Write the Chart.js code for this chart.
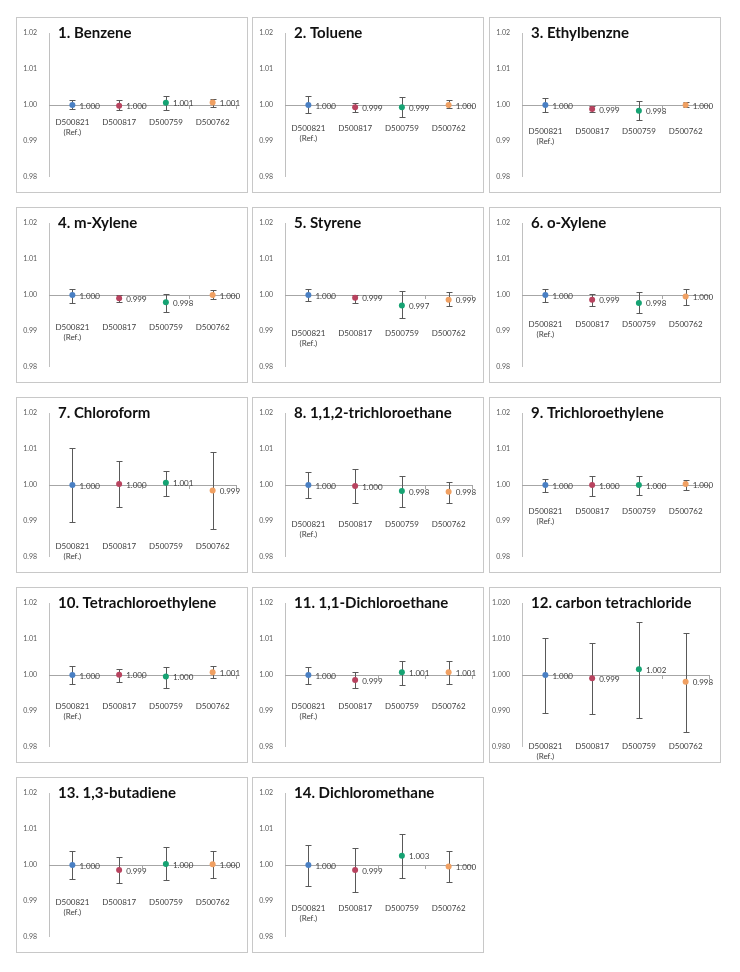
<!DOCTYPE html>
<html><head><meta charset="utf-8">
<script src="https://cdn.jsdelivr.net/npm/chart.js@4.4.1/dist/chart.umd.min.js"></script>
<style>
html,body{margin:0;padding:0;background:#fff;}
body{width:740px;height:972px;position:relative;overflow:hidden;}
.panel{position:absolute;width:232px;height:176px;border:1px solid #c8c8c8;box-sizing:border-box;background:#fff;}
.panel canvas{position:absolute;left:-1px;top:-1px;}
</style></head>
<body>
<script>
// ---- data ----
const compounds = ["1. Benzene","2. Toluene","3. Ethylbenzne","4. m-Xylene","5. Styrene","6. o-Xylene",
  "7. Chloroform","8. 1,1,2-trichloroethane","9. Trichloroethylene","10. Tetrachloroethylene",
  "11. 1,1-Dichloroethane","12. carbon tetrachloride","13. 1,3-butadiene","14. Dichloromethane"];
const instruments = ["D500821","D500817","D500759","D500762"];
const refNote = "(Ref.)";
const yTickValues = [0.98, 0.99, 1.00, 1.01, 1.02];
const yTickDecimals = [2,2,2,2,2,2,2,2,2,2,2,3,2,2];

const means = [
  [1.0000, 0.9998, 1.0006, 1.0007],
  [1.0000, 0.9994, 0.9994, 1.0000],
  [1.0000, 0.9989, 0.9984, 1.0000],
  [1.0000, 0.9991, 0.9980, 1.0000],
  [1.0000, 0.9992, 0.9971, 0.9987],
  [1.0000, 0.9987, 0.9978, 0.9996],
  [1.0000, 1.0003, 1.0006, 0.9985],
  [1.0000, 0.9997, 0.9983, 0.9981],
  [1.0000, 1.0000, 1.0000, 1.0003],
  [1.0000, 1.0001, 0.9996, 1.0008],
  [1.0000, 0.9986, 1.0008, 1.0008],
  [1.0000, 0.9991, 1.0016, 0.9981],
  [1.0000, 0.9986, 1.0003, 1.0002],
  [1.0000, 0.9986, 1.0026, 0.9996]
];
const upper = [
  [1.0013, 1.0013, 1.0024, 1.0018],
  [1.0025, 1.0006, 1.0022, 1.0013],
  [1.0019, 0.9997, 1.0011, 1.0007],
  [1.0018, 0.9999, 1.0004, 1.0013],
  [1.0017, 1.0001, 1.0010, 1.0007],
  [1.0017, 1.0002, 1.0008, 1.0017],
  [1.0102, 1.0068, 1.0040, 1.0093],
  [1.0037, 1.0044, 1.0026, 1.0008],
  [1.0017, 1.0025, 1.0025, 1.0015],
  [1.0026, 1.0018, 1.0023, 1.0026],
  [1.0023, 1.0008, 1.0040, 1.0040],
  [1.0103, 1.0089, 1.0148, 1.0118],
  [1.0038, 1.0022, 1.0049, 1.0039],
  [1.0056, 1.0046, 1.0086, 1.0038]
];
const lower = [
  [0.9988, 0.9987, 0.9987, 0.9994],
  [0.9977, 0.9981, 0.9967, 0.9992],
  [0.9981, 0.9981, 0.9958, 0.9994],
  [0.9979, 0.9981, 0.9952, 0.9990],
  [0.9983, 0.9979, 0.9936, 0.9968],
  [0.9981, 0.9970, 0.9949, 0.9973],
  [0.9898, 0.9938, 0.9970, 0.9878],
  [0.9964, 0.9949, 0.9938, 0.9951],
  [0.9981, 0.9969, 0.9972, 0.9985],
  [0.9975, 0.9980, 0.9964, 0.9992],
  [0.9974, 0.9964, 0.9972, 0.9974],
  [0.9894, 0.9892, 0.9880, 0.9842],
  [0.9961, 0.9949, 0.9958, 0.9964],
  [0.9942, 0.9926, 0.9963, 0.9953]
];

// ---- layout / style (not data) ----
const colLeft = [16, 252, 489];
const rowTop = [17, 207, 397, 587, 777];
const PW = 232, PH = 176;
const labelDrop = [17,23,26,32,38,29,61,39,26,31,31,71,37,43]; // px from axis to first label line centre
const pointColors = ['#4a80c4', '#b8435f', '#16a373', '#f0a062'];
const FONT = 'Lato, "Open Sans", sans-serif';

function makePlugin(k) {
  return {
    id: 'panelDecor' + k,
    beforeDatasetsDraw(chart) {
      const {ctx, scales: {y}} = chart;
      const meta = chart.getDatasetMeta(0);
      ctx.save();
      ctx.strokeStyle = '#595959';
      ctx.lineWidth = 1;
      meta.data.forEach((pt, i) => {
        const px = Math.round(pt.x) + 0.5;
        const yh = Math.round(y.getPixelForValue(upper[k][i])) + 0.5;
        const yl = Math.round(y.getPixelForValue(lower[k][i])) + 0.5;
        ctx.beginPath();
        ctx.moveTo(px, yh); ctx.lineTo(px, yl);
        ctx.moveTo(px - 3, yh); ctx.lineTo(px + 3, yh);
        ctx.moveTo(px - 3, yl); ctx.lineTo(px + 3, yl);
        ctx.stroke();
      });
      ctx.restore();
    },
    afterDatasetsDraw(chart) {
      const {ctx} = chart;
      const meta = chart.getDatasetMeta(0);
      ctx.save();
      ctx.font = '8px ' + FONT;
      ctx.fillStyle = '#404040';
      ctx.textAlign = 'left';
      ctx.textBaseline = 'middle';
      meta.data.forEach((pt, i) => {
        ctx.fillText(means[k][i].toFixed(3), pt.x + 7, pt.y + 1);
      });
      ctx.font = 'bold 15px ' + FONT;
      ctx.fillStyle = '#111';
      ctx.fillText(compounds[k], 42, 16);
      ctx.restore();
    }
  };
}

compounds.forEach((name, k) => {
  const div = document.createElement('div');
  div.className = 'panel';
  div.style.left = colLeft[k % 3] + 'px';
  div.style.top = rowTop[Math.floor(k / 3)] + 'px';
  const cv = document.createElement('canvas');
  cv.width = PW; cv.height = PH;
  cv.style.width = PW + 'px'; cv.style.height = PH + 'px';
  div.appendChild(cv);
  document.body.appendChild(div);

  const labels = instruments.map((s, i) => i === 0 ? [s, refNote] : s);
  const dec = yTickDecimals[k];

  new Chart(cv, {
    type: 'line',
    data: {
      labels,
      datasets: [{
        data: means[k],
        showLine: false,
        pointRadius: 3,
        pointBorderWidth: 0,
        pointBackgroundColor: pointColors,
        pointBorderColor: pointColors
      }]
    },
    options: {
      responsive: false,
      animation: false,
      devicePixelRatio: 1,
      events: [],
      layout: {padding: {left: 0, top: 9, right: 12, bottom: 10}},
      plugins: {legend: {display: false}, tooltip: {enabled: false}, title: {display: false}},
      scales: {
        y: {
          type: 'linear',
          min: yTickValues[0],
          max: yTickValues[yTickValues.length - 1],
          afterBuildTicks: (s) => { s.ticks = yTickValues.map(v => ({value: v})); },
          afterFit: (s) => { s.width = 33; },
          ticks: {
            padding: 12,
            color: '#595959',
            font: {family: FONT, size: 7},
            callback: (v) => Number(v).toFixed(dec)
          },
          grid: {display: false, drawTicks: false},
          border: {display: true, color: '#c0c0c0', width: 1}
        },
        x: {
          type: 'category',
          offset: true,
          position: {y: 1.0},
          afterFit: (s) => { s.paddingLeft = 0; s.paddingRight = 0; },
          grid: {display: true, drawOnChartArea: false, offset: true, tickLength: 3, color: '#a6a6a6'},
          border: {display: true, color: '#a6a6a6', width: 1},
          ticks: {
            autoSkip: false,
            maxRotation: 0,
            minRotation: 0,
            padding: labelDrop[k] - 3 - 5.4,
            color: '#404040',
            font: {family: FONT, size: 8, lineHeight: 1.35}
          }
        }
      }
    },
    plugins: [makePlugin(k)]
  });
});
</script>
</body></html>
